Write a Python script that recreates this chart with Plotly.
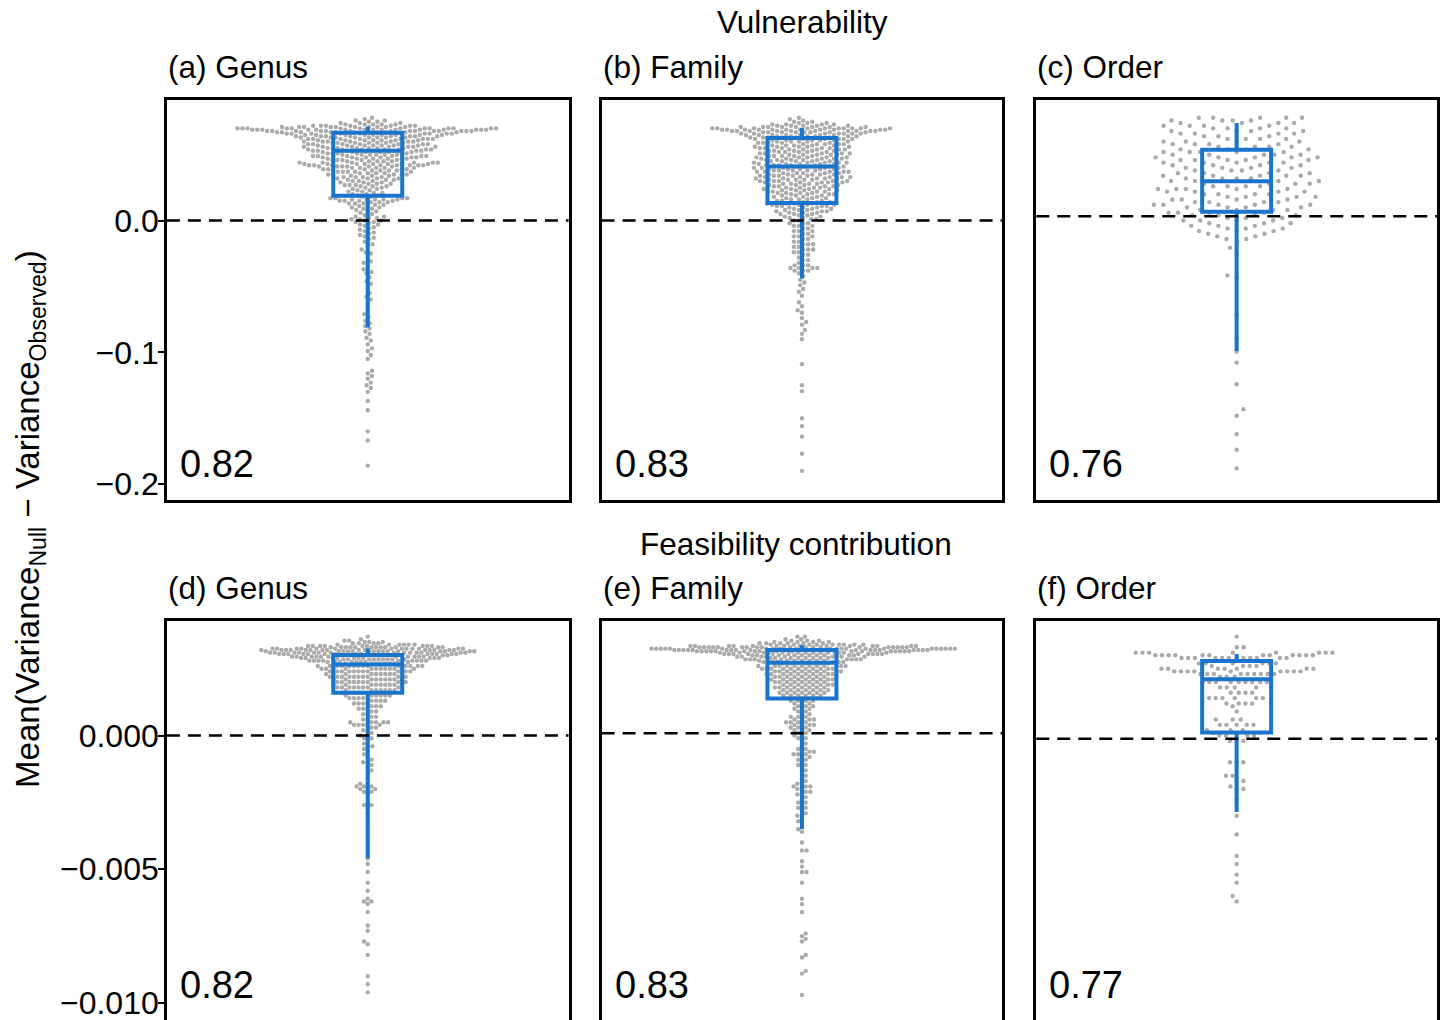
import numpy as np
import plotly.graph_objects as go

# ---------------- data ----------------
panel_titles = ["(a) Genus", "(b) Family", "(c) Order", "(d) Genus", "(e) Family", "(f) Order"]
row_titles = ["Vulnerability", "Feasibility contribution"]
panel_scores = ["0.82", "0.83", "0.76", "0.82", "0.83", "0.77"]
y_title = "Mean(Variance<sub>Null</sub> − Variance<sub>Observed</sub>)"

# histograms (value, count) for dense parts + individual tail values
a_hist = [(0.078, 1), (0.077, 1), (0.076, 2), (0.075, 2), (0.074, 3), (0.073, 5), (0.072, 7),
          (0.071, 10), (0.070, 14), (0.069, 15), (0.068, 14), (0.067, 11), (0.066, 10), (0.065, 9),
          (0.064, 8), (0.063, 8), (0.062, 8), (0.061, 7), (0.060, 7), (0.059, 7), (0.058, 7),
          (0.057, 7), (0.056, 7), (0.055, 7), (0.054, 7), (0.053, 7), (0.052, 6), (0.051, 6),
          (0.050, 6), (0.049, 6), (0.048, 6), (0.047, 6), (0.046, 5), (0.045, 5), (0.044, 6),
          (0.043, 8), (0.042, 8), (0.041, 6), (0.040, 5), (0.039, 5), (0.038, 5), (0.037, 5),
          (0.036, 4), (0.035, 4), (0.034, 4), (0.033, 4), (0.032, 4), (0.031, 3), (0.030, 3),
          (0.029, 3), (0.028, 3), (0.027, 3), (0.026, 3), (0.025, 2), (0.024, 2), (0.023, 2),
          (0.022, 2), (0.021, 2), (0.020, 2), (0.019, 2), (0.018, 2), (0.017, 4), (0.016, 5),
          (0.015, 4), (0.014, 3), (0.013, 3), (0.012, 2), (0.011, 2), (0.010, 2), (0.009, 2),
          (0.008, 1), (0.007, 2), (0.006, 1), (0.005, 1), (0.004, 1), (0.003, 2), (0.002, 2),
          (0.001, 2), (0.000, 2), (-0.001, 2), (-0.002, 1), (-0.003, 2), (-0.004, 1), (-0.005, 1),
          (-0.006, 1), (-0.007, 1), (-0.008, 1), (-0.009, 1), (-0.010, 1), (-0.011, 1),
          (-0.012, 1), (-0.013, 1), (-0.014, 1)]
a_tail = [-0.016, -0.018, -0.019, -0.022, -0.024, -0.025, -0.028, -0.031, -0.032, -0.034, -0.037,
          -0.039, -0.040, -0.043, -0.046, -0.048, -0.051, -0.055, -0.058, -0.060, -0.063, -0.068,
          -0.071, -0.073, -0.076, -0.078, -0.080, -0.082, -0.084, -0.086, -0.089, -0.091, -0.094,
          -0.097, -0.099, -0.102, -0.105, -0.114, -0.116, -0.118, -0.120, -0.123, -0.125, -0.127,
          -0.130, -0.137, -0.144, -0.160, -0.167, -0.186]

b_hist = [(0.078, 1), (0.077, 1), (0.076, 1), (0.075, 2), (0.074, 3), (0.073, 4), (0.072, 5),
          (0.071, 8), (0.070, 10), (0.069, 11), (0.068, 10), (0.067, 8), (0.066, 7), (0.065, 7),
          (0.064, 6), (0.063, 6), (0.062, 6), (0.061, 5), (0.060, 5), (0.059, 5), (0.058, 5),
          (0.057, 5), (0.056, 5), (0.055, 5), (0.054, 5), (0.053, 5), (0.052, 5), (0.051, 5),
          (0.050, 5), (0.049, 5), (0.048, 5), (0.047, 5), (0.046, 5), (0.045, 5), (0.044, 5),
          (0.043, 5), (0.042, 5), (0.041, 5), (0.040, 5), (0.039, 5), (0.038, 5), (0.037, 5),
          (0.036, 5), (0.035, 5), (0.034, 5), (0.033, 5), (0.032, 5), (0.031, 5), (0.030, 5),
          (0.029, 5), (0.028, 4), (0.027, 4), (0.026, 4), (0.025, 4), (0.024, 4), (0.023, 4),
          (0.022, 4), (0.021, 4), (0.020, 4), (0.019, 3), (0.018, 3), (0.017, 3), (0.016, 3),
          (0.015, 3), (0.014, 3), (0.013, 4), (0.012, 4), (0.011, 4), (0.010, 3), (0.009, 3),
          (0.008, 3), (0.007, 3), (0.006, 3), (0.005, 3), (0.004, 2), (0.003, 2), (0.002, 2),
          (0.001, 2), (0.000, 2), (-0.002, 3), (-0.004, 3), (-0.006, 2), (-0.008, 3), (-0.010, 2),
          (-0.012, 3), (-0.014, 2), (-0.016, 2), (-0.018, 3), (-0.020, 2), (-0.022, 3), (-0.024, 2),
          (-0.026, 2), (-0.028, 1), (-0.030, 2), (-0.032, 1), (-0.034, 3), (-0.036, 4), (-0.038, 3)]
b_tail = [-0.040, -0.042, -0.045, -0.047, -0.049, -0.052, -0.054, -0.057, -0.062, -0.065, -0.068,
          -0.070, -0.074, -0.077, -0.079, -0.083, -0.086, -0.090, -0.109, -0.125, -0.1295, -0.150,
          -0.156, -0.164, -0.177, -0.190]

c_hist = [(0.078, 5), (0.076, 4), (0.074, 4), (0.072, 4), (0.070, 4), (0.068, 4), (0.066, 4),
          (0.064, 3), (0.062, 4), (0.060, 4), (0.058, 4), (0.056, 4), (0.054, 4), (0.052, 5),
          (0.050, 5), (0.048, 5), (0.046, 5), (0.044, 5), (0.042, 4), (0.040, 4), (0.038, 4),
          (0.036, 4), (0.034, 5), (0.032, 4), (0.030, 4), (0.028, 4), (0.026, 4), (0.024, 5),
          (0.022, 4), (0.020, 4), (0.018, 4), (0.016, 4), (0.014, 4), (0.012, 5), (0.010, 4),
          (0.008, 4), (0.006, 4), (0.004, 4), (0.002, 3), (0.000, 4), (-0.002, 3), (-0.004, 3),
          (-0.006, 3), (-0.008, 3), (-0.010, 2), (-0.012, 2), (-0.014, 2), (-0.016, 1)]
c_tail = [-0.0207, -0.0258, -0.0417, -0.0434, -0.0717, -0.0896, -0.0995, -0.1078, -0.1242,
          -0.1432, -0.1482, -0.1621, -0.1740, -0.1881]

d_hist = [(0.00370, 1), (0.00360, 1), (0.00355, 2), (0.00350, 3), (0.00345, 4), (0.00340, 6),
          (0.00335, 9), (0.00330, 12), (0.00325, 13), (0.00320, 15), (0.00315, 15), (0.00310, 14),
          (0.00305, 14), (0.00300, 12), (0.00295, 11), (0.00290, 10), (0.00285, 9), (0.00280, 9),
          (0.00275, 8), (0.00270, 8), (0.0026, 14), (0.0025, 12), (0.0024, 11), (0.0023, 10),
          (0.0022, 10), (0.0021, 9), (0.0020, 9), (0.0019, 9), (0.0018, 8), (0.0017, 7),
          (0.0016, 6), (0.0015, 6), (0.0014, 5), (0.0013, 4), (0.0012, 4), (0.0011, 3),
          (0.0010, 3), (0.0009, 2), (0.0008, 2), (0.0007, 2), (0.0006, 2), (0.0005, 5),
          (0.0004, 5), (0.0003, 2), (0.0002, 2), (0.0001, 1), (0.0000, 2), (-0.0001, 2),
          (-0.0002, 1), (-0.0003, 1), (-0.0004, 2), (-0.0005, 1), (-0.0006, 1), (-0.0007, 1),
          (-0.0008, 1), (-0.0009, 1), (-0.0010, 2), (-0.0011, 1), (-0.0012, 1), (-0.0013, 1),
          (-0.0014, 1), (-0.0016, 1), (-0.0018, 2), (-0.0019, 3), (-0.0020, 3), (-0.0021, 2),
          (-0.0022, 1), (-0.0025, 1), (-0.0026, 2), (-0.0027, 1), (-0.0029, 1), (-0.0031, 1),
          (-0.0036, 1), (-0.0040, 1)]
d_tail = [-0.0044, -0.0046, -0.0048, -0.0051, -0.0055, -0.0058, -0.0061, -0.0062, -0.0062,
          -0.0063, -0.0066, -0.0071, -0.0073, -0.0077, -0.0078, -0.0082, -0.0090, -0.0093, -0.0096]

e_hist = [(0.00370, 2), (0.00360, 2), (0.00355, 3), (0.00350, 4), (0.00345, 6), (0.00340, 9),
          (0.00335, 14), (0.00330, 19), (0.00325, 22), (0.00320, 22), (0.00315, 17), (0.00310, 14),
          (0.00305, 11), (0.00300, 10), (0.00295, 9), (0.00290, 8), (0.00285, 8), (0.00280, 7),
          (0.00275, 7), (0.00270, 7), (0.0026, 12), (0.0025, 11), (0.0024, 10), (0.0023, 10),
          (0.0022, 9), (0.0021, 9), (0.0020, 8), (0.0019, 8), (0.0018, 8), (0.0017, 7),
          (0.0016, 7), (0.0015, 6), (0.0014, 5), (0.0013, 4), (0.0012, 3), (0.0011, 3),
          (0.0010, 3), (0.0009, 2), (0.0008, 2), (0.0007, 3), (0.0006, 4), (0.0005, 4),
          (0.0004, 4), (0.0003, 3), (0.0002, 3), (0.0001, 2), (0.0000, 2), (-0.0001, 2),
          (-0.0002, 1), (-0.0003, 1), (-0.0004, 1), (-0.0005, 2), (-0.0006, 3), (-0.0007, 3),
          (-0.0008, 2), (-0.0009, 2), (-0.0010, 1), (-0.0011, 2), (-0.0012, 1), (-0.0013, 1),
          (-0.0014, 1), (-0.0015, 1), (-0.0016, 1), (-0.0017, 1), (-0.0018, 2), (-0.0019, 3),
          (-0.0020, 2), (-0.0021, 2), (-0.0022, 2), (-0.0023, 1), (-0.0024, 1), (-0.0025, 2),
          (-0.0026, 1), (-0.0027, 2), (-0.0028, 1), (-0.0029, 1), (-0.0030, 2), (-0.0032, 1),
          (-0.0033, 1), (-0.0035, 1)]
e_tail = [-0.0036, -0.0040, -0.0043, -0.0043, -0.0047, -0.0049, -0.0051, -0.0051, -0.0055,
          -0.0061, -0.0063, -0.0066, -0.0074, -0.0075, -0.0076, -0.0077, -0.0082, -0.0083,
          -0.0088, -0.0089, -0.0097]

f_hist = [(0.0037, 1), (0.0033, 2), (0.0031, 8), (0.0030, 12), (0.0029, 12), (0.0027, 6),
          (0.0026, 4), (0.0025, 7), (0.0024, 9), (0.0023, 9), (0.0022, 3), (0.0020, 9),
          (0.0018, 4), (0.0016, 4), (0.0014, 6), (0.0012, 4), (0.0011, 1), (0.0009, 1),
          (0.0006, 3), (0.0004, 5), (0.0002, 3), (0.0001, 3), (0.0000, 4), (-0.0002, 3),
          (-0.0010, 3), (-0.0015, 2), (-0.0017, 2), (-0.0019, 1), (-0.0020, 2), (-0.0024, 1)]
f_tail = [-0.0030, -0.0037, -0.0045, -0.0048, -0.0052, -0.0055, -0.0060, -0.0062]

# box statistics (as drawn)
box_q1 = [0.0189, 0.0134, 0.0066, 0.00160, 0.00139, 0.00011]
box_median = [0.0530, 0.0411, 0.0298, 0.00266, 0.00272, 0.00211]
box_q3 = [0.0667, 0.0627, 0.0538, 0.00301, 0.00320, 0.00279]
box_upper = [0.0712, 0.0702, 0.0740, 0.00326, 0.00338, 0.00305]
box_lower = [-0.0811, -0.0439, -0.0990, -0.00459, -0.00350, -0.00286]
ref_line = [0.0, 0.0, 0.0033, 0.0, 0.00009, -0.00012]

top_ticks = [0.0, -0.1, -0.2]
top_tick_text = ["0.0", "−0.1", "−0.2"]
bottom_ticks = [0.0, -0.005, -0.010]
bottom_tick_text = ["0.000", "−0.005", "−0.010"]

# ---------------- styling / layout ----------------
W, H = 1440, 1024          # the last rows fall just below the 1020 px window, as in the reference
FONT = "Liberation Sans, Arial, Helvetica, sans-serif"
BLUE = "#1874CD"
GREY = "#ababab"
col_px = [(167, 569), (602, 1003), (1037, 1438)]
row_px = [(100, 501), (622, 1023)]
top_range = [-0.212121, 0.091667]
bottom_range = [-0.010672, 0.004291]
dot_spacing = [5.0, 5.0, 9.5, 4.6, 4.6, 6.7]
dot_size = 4.4


def expand(hist, tail):
    vals = []
    for v, c in hist:
        vals.extend([v] * c)
    vals.extend(tail)
    return np.array(vals, float)


def swarm(vals, s, ppu):
    """beeswarm 'swarm' layout (ascending priority), offsets returned in px"""
    ypx = vals * ppu
    order = np.argsort(ypx, kind="stable")
    xs = np.zeros(len(vals))
    px = np.empty(0)
    py = np.empty(0)
    for k, i in enumerate(order):
        y = ypx[i]
        m = np.abs(py - y) < s
        nx, ny = px[m], py[m]
        if nx.size == 0:
            x = 0.0
        else:
            dx = np.sqrt(np.maximum(s * s - (ny - y) ** 2, 0))
            cands = np.concatenate([[0.0], nx + dx, nx - dx])
            d2 = (cands[:, None] - nx[None, :]) ** 2 + (y - ny[None, :]) ** 2
            ok = np.all(d2 >= s * s - 1e-6, axis=1)
            c = cands[ok]
            sgn = 1 if k % 2 == 0 else -1
            key = np.abs(c) - 1e-7 * sgn * np.sign(c)
            x = c[np.argmin(key)]
        xs[i] = x
        px = np.append(px, x)
        py = np.append(py, y)
    return xs


panels = [expand(a_hist, a_tail), expand(b_hist, b_tail), expand(c_hist, c_tail),
          expand(d_hist, d_tail), expand(e_hist, e_tail), expand(f_hist, f_tail)]

fig = go.Figure()
layout = dict(width=W, height=H, margin=dict(l=0, r=0, t=0, b=0),
              paper_bgcolor="white", plot_bgcolor="white", showlegend=False,
              font=dict(family=FONT, color="black"))
shapes = []
annotations = []

for p in range(6):
    r, c = divmod(p, 3)
    n = p + 1
    xa = "x" if n == 1 else f"x{n}"
    ya = "y" if n == 1 else f"y{n}"
    xo, yo = f"x{n + 6}", f"y{n + 6}"
    x0, x1 = col_px[c]
    y0, y1 = row_px[r]
    xdom = [x0 / W, x1 / W]
    ydom = [max(0.0, 1 - y1 / H), 1 - y0 / H]
    yr = top_range if r == 0 else bottom_range
    ppu = (y1 - y0) / (yr[1] - yr[0])
    xppu = (x1 - x0) / 2.0

    vals = panels[p]
    offs = swarm(vals, dot_spacing[p], ppu)
    fig.add_trace(go.Scatter(x=offs / xppu, y=vals, mode="markers", xaxis=xa, yaxis=ya,
                             marker=dict(size=dot_size, color=GREY, line=dict(width=0)),
                             hoverinfo="skip"))
    fig.add_trace(go.Box(x=[0], q1=[box_q1[p]], median=[box_median[p]], q3=[box_q3[p]],
                         lowerfence=[box_lower[p]], upperfence=[box_upper[p]],
                         width=69 / xppu, whiskerwidth=0, boxpoints=False, xaxis=xo, yaxis=yo,
                         line=dict(color=BLUE, width=4), fillcolor="rgba(0,0,0,0)",
                         hoverinfo="skip"))

    left = c == 0
    layout["xaxis" if n == 1 else f"xaxis{n}"] = dict(
        domain=xdom, range=[-1, 1], showgrid=False, zeroline=False, showticklabels=False,
        ticks="", showline=True, mirror=True, linecolor="black", linewidth=2.5,
        anchor=ya, fixedrange=True)
    layout["yaxis" if n == 1 else f"yaxis{n}"] = dict(
        domain=ydom, range=yr, showgrid=False, zeroline=False, showline=True, mirror=True,
        linecolor="black", linewidth=2.5, anchor=xa,
        showticklabels=left, ticks="outside" if left else "",
        tickvals=(top_ticks if r == 0 else bottom_ticks) if left else None,
        ticktext=(top_tick_text if r == 0 else bottom_tick_text) if left else None,
        ticklen=6, tickwidth=2, tickcolor="black", ticklabelstandoff=-7,
        ticklabeloverflow="allow",
        tickfont=dict(size=32, family=FONT, color="black"))
    layout[f"xaxis{n + 6}"] = dict(overlaying=xa, range=[-1, 1], visible=False, anchor=yo)
    layout[f"yaxis{n + 6}"] = dict(overlaying=ya, range=yr, visible=False, anchor=xo)

    shapes.append(dict(type="line", xref=f"{xa} domain", yref=ya, x0=0, x1=1,
                       y0=ref_line[p], y1=ref_line[p],
                       line=dict(color="black", width=2.5, dash="13px,8px"), layer="above"))

    annotations.append(dict(text=panel_titles[p], xref="paper", yref="paper",
                            x=(x0 - 1) / W, y=1 - (y0 - 33) / H, xanchor="left", yanchor="middle",
                            showarrow=False, font=dict(size=31.5, family=FONT, color="black")))
    annotations.append(dict(text=panel_scores[p], xref="paper", yref="paper",
                            x=(x0 + 11) / W, y=1 - (y0 + 365) / H, xanchor="left",
                            yanchor="middle", showarrow=False,
                            font=dict(size=38, family=FONT, color="black")))

annotations.append(dict(text=row_titles[0], xref="paper", yref="paper", x=803 / W, y=1 - 22 / H,
                        xanchor="center", yanchor="middle", showarrow=False,
                        font=dict(size=31.5, family=FONT, color="black")))
annotations.append(dict(text=row_titles[1], xref="paper", yref="paper", x=797 / W, y=1 - 545 / H,
                        xanchor="center", yanchor="middle", showarrow=False,
                        font=dict(size=31.5, family=FONT, color="black")))
annotations.append(dict(text=y_title, xref="paper", yref="paper", x=30 / W, y=1 - 520 / H,
                        xanchor="center", yanchor="middle", textangle=-90, showarrow=False,
                        font=dict(size=33, family=FONT, color="black")))

layout["shapes"] = shapes
layout["annotations"] = annotations
fig.update_layout(**layout)

fig.write_html("out.html", config={"displayModeBar": False},
               post_script="document.body.style.margin='0px';document.body.style.overflow='hidden';")
